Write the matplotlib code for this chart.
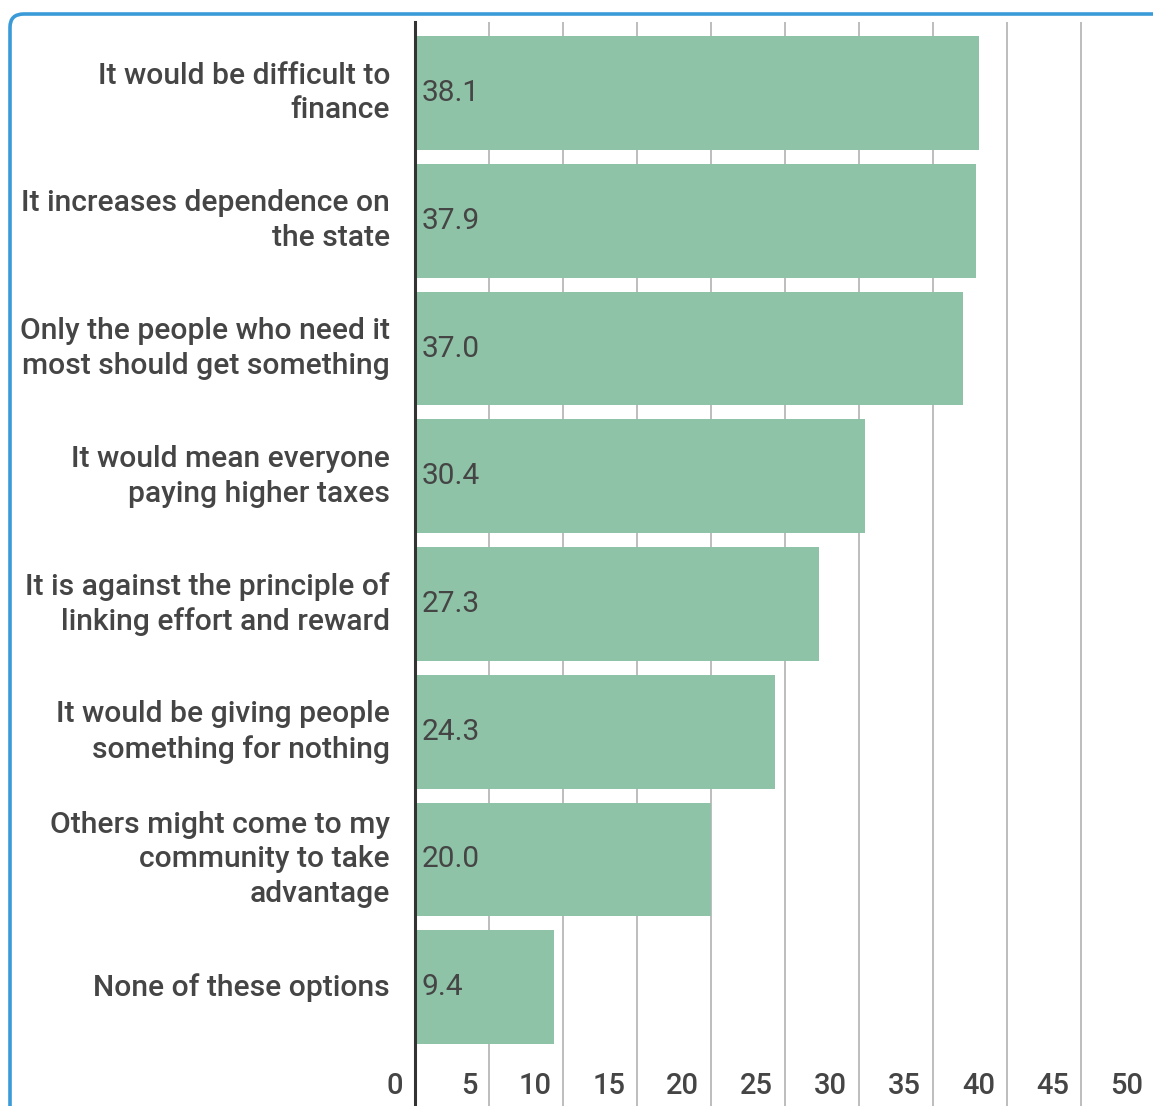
import matplotlib
matplotlib.use("Agg")
import matplotlib.pyplot as plt
from matplotlib.patches import FancyBboxPatch
import matplotlib.transforms as mtransforms

plt.rcParams['font.family'] = ['Roboto', 'DejaVu Sans']

categories = [
    "It would be difficult to\nfinance",
    "It increases dependence on\nthe state",
    "Only the people who need it\nmost should get something",
    "It would mean everyone\npaying higher taxes",
    "It is against the principle of\nlinking effort and reward",
    "It would be giving people\nsomething for nothing",
    "Others might come to my\ncommunity to take\nadvantage",
    "None of these options",
]
values = [38.1, 37.9, 37.0, 30.4, 27.3, 24.3, 20.0, 9.4]
xticks = [0, 5, 10, 15, 20, 25, 30, 35, 40, 45, 50]

BAR = "#8fc3a7"
TXT = "#454545"
GRID = "#bdbdbd"

W, H = 1153, 1106
fig = plt.figure(figsize=(W / 100, H / 100), dpi=100)

# Blue rounded border (extends past right and bottom edges)
border = FancyBboxPatch((10 / W, -0.05), 1.2, 1 - 14 / H + 0.05,
                        boxstyle="round,pad=0,rounding_size=0.012",
                        transform=fig.transFigure, fill=False,
                        edgecolor="#3a9bd8", linewidth=2.6, clip_on=False)
fig.patches.append(border)

ax = fig.add_axes([415 / W, 0, 740 / W, 1 - 22 / H])
ax.set_xlim(0, 50)
ax.set_ylim(7.93, -0.556)
ax.patch.set_alpha(0)

y = list(range(len(values)))
ax.barh(y, values, height=0.89, color=BAR, zorder=2)

for s in ax.spines.values():
    s.set_visible(False)
ax.set_xticks([])
ax.set_yticks([])

for t in xticks[1:]:
    ax.axvline(t, color=GRID, linewidth=1.4, zorder=1)
ax.axvline(0, color="#333333", linewidth=2.2, zorder=3, clip_on=False)

trans = mtransforms.blended_transform_factory(ax.transData, ax.transAxes)
for t in xticks:
    ax.annotate(str(t), xy=(t, 0.018), xycoords=trans, xytext=(-8.5, 0),
                textcoords="offset points", ha="right", va="center",
                fontsize=21, color=TXT, fontweight="medium", annotation_clip=False)

for yi, v, c in zip(y, values, categories):
    ax.annotate(f"{v:.1f}", xy=(0, yi), xytext=(4.5, 0), textcoords="offset points",
                ha="left", va="center", fontsize=21.5, color=TXT, zorder=4)
    ax.annotate(c, xy=(0, yi), xytext=(-18, 0), textcoords="offset points",
                ha="right", va="center", fontsize=21.6, color=TXT,
                fontweight="medium", linespacing=1.3, annotation_clip=False)

fig.savefig("out.png", dpi=100)
